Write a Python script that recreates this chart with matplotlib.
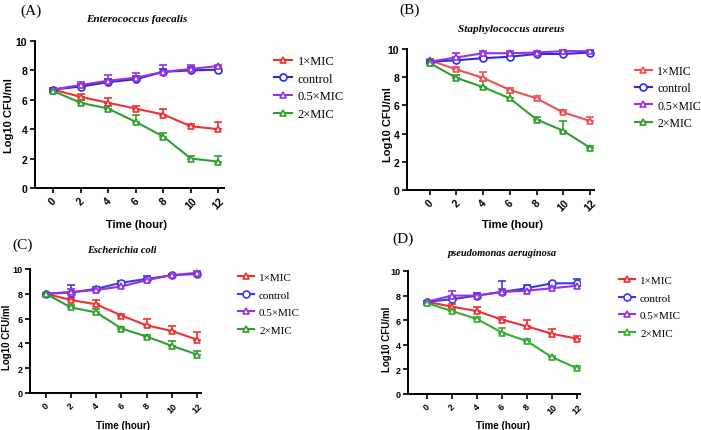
import matplotlib.pyplot as plt

hours = [0, 2, 4, 6, 8, 10, 12]
labels = ["1×MIC", "control", "0.5×MIC", "2×MIC"]

# (A) Enterococcus faecalis
a_mic1 = [6.7, 6.2, 5.8, 5.4, 5.0, 4.2, 4.0]
a_mic1_err = [0.1, 0.2, 0.3, 0.2, 0.35, 0.15, 0.5]
a_ctrl = [6.7, 6.9, 7.2, 7.4, 7.9, 8.0, 8.05]
a_ctrl_err = [0.1, 0.15, 0.2, 0.2, 0.2, 0.2, 0.1]
a_half = [6.7, 7.0, 7.3, 7.5, 7.9, 8.1, 8.3]
a_half_err = [0.1, 0.2, 0.4, 0.3, 0.45, 0.3, 0.1]
a_mic2 = [6.6, 5.8, 5.4, 4.5, 3.5, 2.0, 1.8]
a_mic2_err = [0.1, 0.2, 0.2, 0.5, 0.25, 0.15, 0.35]

# (B) Staphylococcus aureus
b_mic1 = [9.2, 8.55, 7.95, 7.1, 6.5, 5.5, 4.9]
b_mic1_err = [0.1, 0.15, 0.4, 0.15, 0.15, 0.15, 0.3]
b_ctrl = [9.1, 9.2, 9.35, 9.45, 9.65, 9.65, 9.75]
b_ctrl_err = [0.1, 0.1, 0.1, 0.1, 0.1, 0.1, 0.1]
b_half = [9.1, 9.4, 9.7, 9.7, 9.75, 9.85, 9.85]
b_half_err = [0.1, 0.3, 0.15, 0.15, 0.1, 0.1, 0.1]
b_mic2 = [9.0, 7.95, 7.3, 6.5, 5.0, 4.2, 3.0]
b_mic2_err = [0.1, 0.2, 0.4, 0.4, 0.15, 0.7, 0.1]

# (C) Escherichia coli
c_mic1 = [8.0, 7.5, 7.15, 6.25, 5.45, 5.0, 4.3]
c_mic1_err = [0.1, 0.2, 0.35, 0.15, 0.5, 0.4, 0.6]
c_ctrl = [8.0, 8.1, 8.4, 8.9, 9.2, 9.5, 9.6]
c_ctrl_err = [0.1, 0.6, 0.15, 0.1, 0.2, 0.1, 0.1]
c_half = [8.0, 8.15, 8.3, 8.6, 9.1, 9.5, 9.7]
c_half_err = [0.1, 0.2, 0.15, 0.1, 0.15, 0.1, 0.15]
c_mic2 = [8.0, 6.9, 6.5, 5.2, 4.55, 3.8, 3.1]
c_mic2_err = [0.1, 0.2, 0.3, 0.15, 0.15, 0.4, 0.25]

# (D) pseudomonas aeruginosa
d_mic1 = [7.5, 7.1, 6.75, 6.05, 5.5, 4.9, 4.5]
d_mic1_err = [0.1, 0.2, 0.3, 0.2, 0.5, 0.4, 0.2]
d_ctrl = [7.5, 7.7, 8.0, 8.3, 8.6, 9.0, 9.0]
d_ctrl_err = [0.1, 0.2, 0.2, 0.9, 0.3, 0.1, 0.35]
d_half = [7.5, 8.0, 8.0, 8.3, 8.4, 8.6, 8.8]
d_half_err = [0.1, 0.4, 0.15, 0.2, 0.3, 0.2, 0.2]
d_mic2 = [7.4, 6.75, 6.1, 5.0, 4.3, 3.0, 2.1]
d_mic2_err = [0.1, 0.15, 0.2, 0.4, 0.2, 0.1, 0.15]

W, H = 701, 431
SANS = "Liberation Sans"
SERIF = "Liberation Serif"


def box(l, t, r, b):
    return [l / W, 1 - b / H, (r - l) / W, (b - t) / H]


def fx(x):
    return x / W


def fy(y):
    return 1 - y / H


def main():
    fig = plt.figure(figsize=(W / 100, H / 100), dpi=100)

    panels = [
        dict(letter="(A)", title="Enterococcus faecalis",
             data=[(a_mic1, a_mic1_err), (a_ctrl, a_ctrl_err), (a_half, a_half_err), (a_mic2, a_mic2_err)],
             colors=["#f03030", "#2b2bd8", "#9a30e0", "#2f9f2f"],
             ax=(35, 42, 224, 189), xlim=(-1.3, 12.4), letter_xy=(31, 11), title_xy=(137, 20),
             ylab_xy=(9, 116), xlab_xy=(137, 225), leg_xy=(274, 56), fs=9, ls=0.45,
             lab_fs=7.5, title_fs=8),
        dict(letter="(B)", title="Staphylococcus aureus",
             data=[(b_mic1, b_mic1_err), (b_ctrl, b_ctrl_err), (b_half, b_half_err), (b_mic2, b_mic2_err)],
             colors=["#f25050", "#2b2bf0", "#9a30e0", "#2f9f2f"],
             ax=(407, 50, 594, 191), xlim=(-1.7, 12.3), letter_xy=(410, 10), title_xy=(511, 29),
             ylab_xy=(388, 125), xlab_xy=(512, 225), leg_xy=(635, 66), fs=8.5, ls=0.45,
             lab_fs=7.5, title_fs=8),
        dict(letter="(C)", title="Escherichia coli",
             data=[(c_mic1, c_mic1_err), (c_ctrl, c_ctrl_err), (c_half, c_half_err), (c_mic2, c_mic2_err)],
             colors=["#f03030", "#3a3ae8", "#9a30e0", "#2f9f2f"],
             ax=(30, 270, 201, 394), xlim=(-1.25, 12.3), letter_xy=(23, 245), title_xy=(122, 251),
             ylab_xy=(7, 337), xlab_xy=(123, 426), leg_xy=(238, 273), fs=8, ls=0.72,
             lab_fs=6.5, title_fs=7.5),
        dict(letter="(D)", title="pseudomonas aeruginosa",
             data=[(d_mic1, d_mic1_err), (d_ctrl, d_ctrl_err), (d_half, d_half_err), (d_mic2, d_mic2_err)],
             colors=["#f03030", "#3a3ae8", "#9a30e0", "#2fb02f"],
             ax=(408, 272, 580, 395), xlim=(-1.5, 12.25), letter_xy=(403, 239), title_xy=(502, 253),
             ylab_xy=(387, 339), xlab_xy=(503, 426), leg_xy=(619, 276), fs=8, ls=0.72,
             lab_fs=6.5, title_fs=7.5),
    ]

    for p in panels:
        ax = fig.add_axes(box(*p["ax"]))
        handles = []
        for (vals, err), color, label in zip(p["data"], p["colors"], labels):
            marker = "o" if label == "control" else "^"
            eb = ax.errorbar(hours, vals, yerr=[[0] * len(err), err], color=color, lw=1.5,
                             marker=marker, ms=5, mfc="white", mec=color, mew=1.2,
                             capsize=3, capthick=1.2, elinewidth=1.2, label=label)
            handles.append(eb[0])

        ax.set_xlim(*p["xlim"])
        ax.set_ylim(0, 10)
        ax.set_xticks(hours)
        ax.set_yticks(range(0, 11, 2))
        for s in ("top", "right"):
            ax.spines[s].set_visible(False)
        for s in ("left", "bottom"):
            ax.spines[s].set_linewidth(1.4)
        ax.tick_params(direction="out", length=3.5, width=1.2, pad=2)
        for t in ax.get_xticklabels():
            t.set_rotation(45)
            t.set_ha("center")
            t.set_fontfamily(SANS)
            t.set_fontweight("bold")
            t.set_fontsize(p["lab_fs"])
        for t in ax.get_yticklabels():
            t.set_fontfamily(SANS)
            t.set_fontweight("bold")
            t.set_fontsize(p["lab_fs"])

        fig.text(fx(p["letter_xy"][0]), fy(p["letter_xy"][1]), p["letter"], family=SERIF,
                 fontsize=11, ha="center", va="center")
        fig.text(fx(p["title_xy"][0]), fy(p["title_xy"][1]), p["title"], family=SERIF,
                 style="italic", weight="bold", fontsize=p["title_fs"], ha="center", va="center")
        fig.text(fx(p["ylab_xy"][0]), fy(p["ylab_xy"][1]), "Log10 CFU/ml", family=SANS,
                 weight="bold", fontsize=p["lab_fs"] + 0.5, rotation=90, ha="center", va="center")
        fig.text(fx(p["xlab_xy"][0]), fy(p["xlab_xy"][1]), "Time (hour)", family=SANS,
                 weight="bold", fontsize=p["lab_fs"] + 0.5, ha="center", va="center")

        ax.legend(handles, labels, loc="upper left", bbox_to_anchor=(fx(p["leg_xy"][0]), fy(p["leg_xy"][1])),
                  bbox_transform=fig.transFigure, frameon=False, borderpad=0, borderaxespad=0,
                  handlelength=1.4, handletextpad=0.5, labelspacing=p["ls"],
                  prop={"family": SERIF, "size": p["fs"]})

    fig.savefig("out.png", dpi=100)
    plt.close(fig)


if __name__ == "__main__":
    main()
